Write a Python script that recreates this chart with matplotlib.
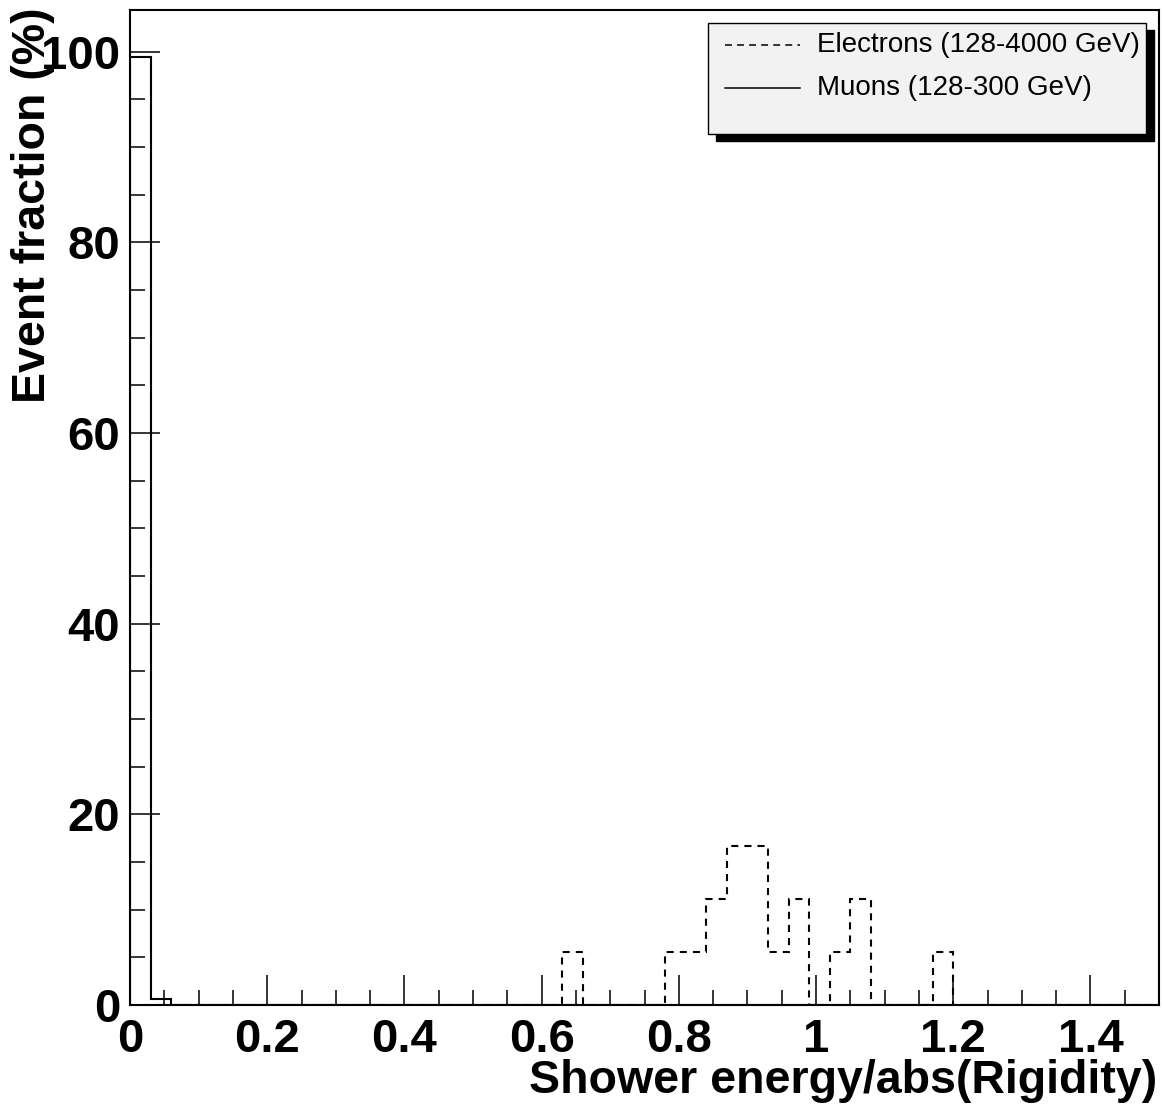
import numpy as np
import matplotlib
matplotlib.use('Agg')
import matplotlib.pyplot as plt
from matplotlib.patches import Rectangle
from matplotlib.lines import Line2D

# histogram binning: 50 bins of width 0.03 from 0 to 1.5
bin_edges = np.linspace(0.0, 1.5, 51)

# event fraction (%) per bin
electrons = [0, 0, 0, 0, 0, 0, 0, 0, 0, 0,
             0, 0, 0, 0, 0, 0, 0, 0, 0, 0,
             0, 5.56, 0, 0, 0, 0, 5.56, 5.56, 11.11, 16.67,
             16.67, 5.56, 11.11, 0, 5.56, 11.11, 0, 0, 0, 5.56,
             0, 0, 0, 0, 0, 0, 0, 0, 0, 0]
muons = [99.4, 0.6, 0, 0, 0, 0, 0, 0, 0, 0,
         0, 0, 0, 0, 0, 0, 0, 0, 0, 0,
         0, 0, 0, 0, 0, 0, 0, 0, 0, 0,
         0, 0, 0, 0, 0, 0, 0, 0, 0, 0,
         0, 0, 0, 0, 0, 0, 0, 0, 0, 0]

labels = ['Electrons (128-4000 GeV)', 'Muons (128-300 GeV)']
xticks = [0, 0.2, 0.4, 0.6, 0.8, 1.0, 1.2, 1.4]
xticklabels = ['0', '0.2', '0.4', '0.6', '0.8', '1', '1.2', '1.4']
yticks = [0, 20, 40, 60, 80, 100]

plt.rcParams['font.family'] = ['Liberation Sans', 'DejaVu Sans']

W, H = 1163, 1106
fig = plt.figure(figsize=(W / 100, H / 100), dpi=100)
L, R, T, B = 130, 1159, 10, 1005
ax = fig.add_axes([L / W, 1 - B / H, (R - L) / W, (B - T) / H])

dash = (0, (3.4, 2.9))
ax.stairs(muons, bin_edges, color='k', lw=1.5)
ax.stairs(electrons, bin_edges, color='k', lw=1.5, linestyle=dash)

ax.set_xlim(0, 1.5)
ax.set_ylim(0, max(muons) * 1.05)
ax.set_xticks(xticks)
ax.set_xticklabels(xticklabels)
ax.set_yticks(yticks)
ax.set_xticks(np.arange(0, 1.5001, 0.05), minor=True)
ax.set_yticks(np.arange(0, 101, 5), minor=True)
ax.tick_params(which='both', direction='in', top=False, right=False,
               width=1.1, labelsize=34)
ax.tick_params(which='major', length=21.5)
ax.tick_params(which='minor', length=10.5)
ax.tick_params(axis='x', pad=9)
ax.tick_params(axis='y', pad=7)
for lab in ax.get_xticklabels() + ax.get_yticklabels():
    lab.set_fontweight('bold')
for s in ax.spines.values():
    s.set_linewidth(1.5)

fig.text(1157 / W, 1 - 1093 / H, 'Shower energy/abs(Rigidity)', ha='right',
         va='baseline', fontsize=33.5, fontweight='bold')
fig.text(33 / W, 1 - 7 / H, 'Event fraction (%)', ha='center', va='top',
         rotation=90, fontsize=33.5, fontweight='bold')

# legend box with shadow, ROOT style
bx0, by0, bx1, by1 = 708, 23, 1146, 134
fig.patches.append(Rectangle(((bx0 + 8) / W, 1 - (by1 + 7) / H), (bx1 - bx0) / W,
                             (by1 - by0) / H, transform=fig.transFigure,
                             facecolor='k', edgecolor='k', zorder=5))
fig.patches.append(Rectangle((bx0 / W, 1 - by1 / H), (bx1 - bx0) / W,
                             (by1 - by0) / H, transform=fig.transFigure,
                             facecolor='#f2f2f2', edgecolor='k', lw=1.0, zorder=6))
rows_y = [45, 88]
styles = [(0, (4.5, 3.4)), '-']
for yy, st, lab in zip(rows_y, styles, labels):
    fig.lines.append(Line2D([725 / W, 800 / W], [1 - yy / H, 1 - yy / H],
                            transform=fig.transFigure, color='k', lw=1.1,
                            linestyle=st, zorder=7))
    fig.text(817 / W, 1 - yy / H, lab, ha='left', va='center', fontsize=20,
             zorder=7)

fig.savefig('out.png', dpi=100)
